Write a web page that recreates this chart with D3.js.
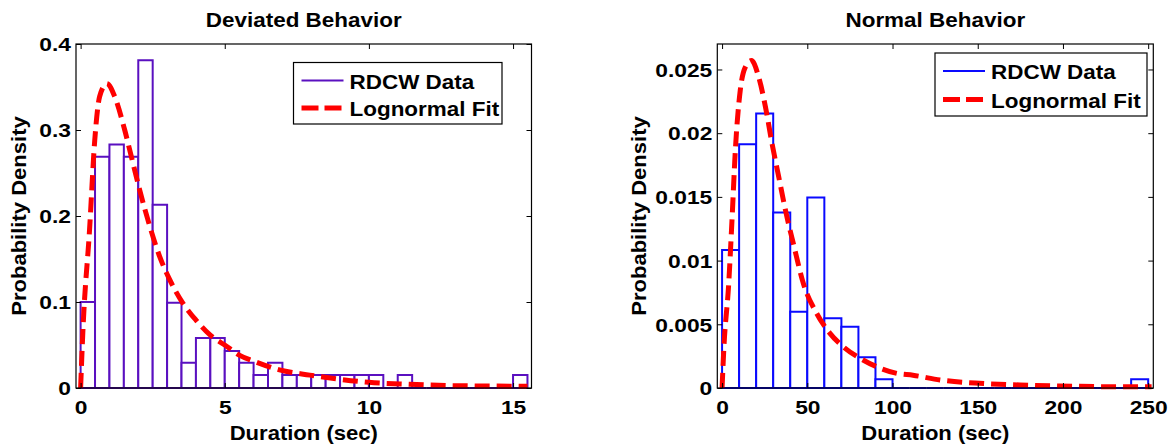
<!DOCTYPE html>
<html>
<head>
<meta charset="utf-8">
<script src="https://d3js.org/d3.v7.min.js"></script>
<style>
  html, body { margin: 0; padding: 0; background: #ffffff; }
  svg { display: block; }
  text { font-family: "Liberation Sans", Arial, Helvetica, sans-serif; font-weight: bold; fill: #000; }
</style>
</head>
<body>
<svg id="chart" width="1172" height="447"></svg>
<script>
// ---------------- DATA ----------------
// Deviated behaviour histogram (bin lower edges, width 0.5 s) and densities
const devBinLo = [0,0.5,1,1.5,2,2.5,3,3.5,4,4.5,5,5.5,6,6.5,7,7.5,8,8.5,9,9.5,10,10.5,11,11.5,12,12.5,13,13.5,14,14.5,15];
const devBinWidth = 0.5;
const devDensity = [0.100,0.269,0.283,0.269,0.381,0.213,0.099,0.0295,0.058,0.058,0.043,0.0295,0.015,0.0295,0.015,0.015,0.015,0.015,0.015,0.015,0.015,0,0.015,0,0,0,0,0,0,0,0.015];
// Lognormal fit, points
const devFitX = [0,0.08,0.31,0.49,0.66,0.91,1.18,1.53,1.76,2.05,2.40,2.74,3.09,3.55,4.0,4.48,5.0,5.52,6.1,6.9,7.95,9.0,10.0,11.4,12.7,14.1,15.5];
const devFitY = [0,0.067,0.184,0.288,0.339,0.354,0.339,0.300,0.269,0.230,0.188,0.153,0.126,0.0985,0.079,0.062,0.050,0.038,0.030,0.021,0.015,0.0101,0.0066,0.0043,0.0029,0.0023,0.002];
const devXTicks = [0,5,10,15];
const devXTickLabels = ["0","5","10","15"];
const devYTicks = [0,0.1,0.2,0.3,0.4];
const devYTickLabels = ["0","0.1","0.2","0.3","0.4"];

// Normal behaviour histogram (bin lower edges, width 10 s) and densities
const normBinLo = [0,10,20,30,40,50,60,70,80,90,100,110,120,130,140,150,160,170,180,190,200,210,220,230,240];
const normBinWidth = 10;
const normDensity = [0.01083,0.01914,0.02155,0.01378,0.00599,0.01496,0.00547,0.00481,0.00241,0.00068,0,0,0,0,0,0,0,0,0,0,0,0,0,0,0.00068];
const normFitX = [0,1.0,3.9,5.9,7.8,10.7,13.7,17.2,21.5,25.4,29.3,33.2,38.1,41.8,47.7,55.5,63.3,71.1,81,90.7,102.5,112,127.9,151,174.8,198,229,252];
const normFitY = [0,0.003,0.0082,0.0134,0.0187,0.0234,0.0252,0.0257,0.0244,0.0221,0.0192,0.0166,0.0134,0.01135,0.0082,0.00586,0.00429,0.00324,0.00233,0.00167,0.00115,0.00100,0.00063,0.00037,0.00024,0.00016,0.0001,0.0001];
const normXTicks = [0,50,100,150,200,250];
const normXTickLabels = ["0","50","100","150","200","250"];
const normYTicks = [0,0.005,0.01,0.015,0.02,0.025];
const normYTickLabels = ["0","0.005","0.01","0.015","0.02","0.025"];

const titles = ["Deviated Behavior","Normal Behavior"];
const xLabel = "Duration (sec)";
const yLabel = "Probability Density";
const legendLabels = ["RDCW Data","Lognormal Fit"];

// ---------------- DRAW ----------------
const svg = d3.select("#chart");

function scaledText(g, x, y, str, size, sx, anchor, rotate) {
  return g.append("text")
    .attr("transform", `translate(${x},${y})` + (rotate ? ` rotate(${rotate})` : "") + ` scale(${sx},1)`)
    .attr("text-anchor", anchor || "middle")
    .style("font-size", size + "px")
    .text(str);
}

function panel(cfg) {
  const g = svg.append("g");
  const x = d3.scaleLinear().domain(cfg.xDomain).range([cfg.left, cfg.right]);
  const y = d3.scaleLinear().domain(cfg.yDomain).range([cfg.bottom, cfg.top]);

  // bars
  const bars = cfg.binLo.map((lo, i) => ({lo: lo, hi: lo + cfg.binWidth, v: cfg.density[i]}));
  g.append("g").selectAll("path").data(bars).join("path")
    .attr("d", d => `M${x(d.lo)},${y(0)}V${y(d.v)}H${x(d.hi)}V${y(0)}Z`)
    .attr("fill", "#ffffff")
    .attr("stroke", cfg.barColor)
    .attr("stroke-width", 2)
    .attr("stroke-linejoin", "miter");

  // fit curve
  const pts = cfg.fitX.map((v, i) => [v, cfg.fitY[i]]);
  g.append("path")
    .datum(pts)
    .attr("d", d3.line().x(d => x(d[0])).y(d => y(d[1])).curve(d3.curveMonotoneX))
    .attr("fill", "none")
    .attr("stroke", "#ff0000")
    .attr("stroke-width", 5)
    .attr("stroke-dasharray", "15,7");

  // axes (ticks inside, all four sides)
  const fmtX = (d) => cfg.xTickLabels[cfg.xTicks.indexOf(d)];
  const fmtY = (d) => cfg.yTickLabels[cfg.yTicks.indexOf(d)];
  const ax = g.append("g").attr("transform", `translate(0,${cfg.bottom})`)
    .call(d3.axisBottom(x).tickValues(cfg.xTicks).tickFormat(fmtX).tickSizeInner(-5).tickSizeOuter(0));
  ax.selectAll("text").attr("x", 0).attr("y", 0).attr("dy", null)
    .attr("transform", "translate(0,25.5) scale(1.2,1)")
    .style("font-size", "19px").style("font-family", null).attr("fill", "#000");
  const ay = g.append("g").attr("transform", `translate(${cfg.left},0)`)
    .call(d3.axisLeft(y).tickValues(cfg.yTicks).tickFormat(fmtY).tickSizeInner(-5).tickSizeOuter(0));
  ay.selectAll("text").attr("x", 0).attr("y", 0).attr("dy", null)
    .attr("transform", "translate(-5,6.8) scale(1.2,1)")
    .style("font-size", "19px").style("font-family", null).attr("fill", "#000");
  g.append("g").attr("transform", `translate(0,${cfg.top})`)
    .call(d3.axisTop(x).tickValues(cfg.xTicks).tickFormat("").tickSizeInner(-5).tickSizeOuter(0));
  g.append("g").attr("transform", `translate(${cfg.right},0)`)
    .call(d3.axisRight(y).tickValues(cfg.yTicks).tickFormat("").tickSizeInner(-5).tickSizeOuter(0));
  g.selectAll(".domain").remove();
  g.selectAll(".tick line").attr("stroke", "#000").attr("stroke-width", 1);

  // box
  g.append("rect")
    .attr("x", cfg.left).attr("y", cfg.top)
    .attr("width", cfg.right - cfg.left).attr("height", cfg.bottom - cfg.top)
    .attr("fill", "none").attr("stroke", "#000").attr("stroke-width", 1.2);

  // titles and labels
  const cx = (cfg.left + cfg.right) / 2;
  scaledText(g, cx, 26.5, cfg.title, 21, 1.07, "middle");
  scaledText(g, cx, 440, xLabel, 21, 1.05, "middle");
  scaledText(g, cfg.yLabelX, (cfg.top + cfg.bottom) / 2, yLabel, 21, 1.05, "middle", -90);

  // legend
  const L = cfg.legend;
  const lg = g.append("g");
  lg.append("rect").attr("x", L.x0).attr("y", L.y0)
    .attr("width", L.x1 - L.x0).attr("height", L.y1 - L.y0)
    .attr("fill", "#ffffff").attr("stroke", "#000").attr("stroke-width", 1.2);
  lg.append("line").attr("x1", L.x0 + 8).attr("x2", L.x0 + 50)
    .attr("y1", L.row1).attr("y2", L.row1)
    .attr("stroke", cfg.barColor).attr("stroke-width", 2);
  lg.append("line").attr("x1", L.x0 + 8).attr("x2", L.x0 + 50)
    .attr("y1", L.row2).attr("y2", L.row2)
    .attr("stroke", "#ff0000").attr("stroke-width", 5).attr("stroke-dasharray", "17,6");
  scaledText(lg, L.x0 + 56, L.row1 + 8, legendLabels[0], 21, 1.07, "start");
  scaledText(lg, L.x0 + 56, L.row2 + 8, legendLabels[1], 21, 1.07, "start");
}

panel({
  left: 76, right: 531.5, top: 44, bottom: 388,
  xDomain: [-0.16, 15.64], yDomain: [0, 0.4],
  binLo: devBinLo, binWidth: devBinWidth, density: devDensity,
  fitX: devFitX, fitY: devFitY,
  xTicks: devXTicks, xTickLabels: devXTickLabels,
  yTicks: devYTicks, yTickLabels: devYTickLabels,
  barColor: "#5a10c0", title: titles[0], yLabelX: 26,
  legend: {x0: 293.5, x1: 502, y0: 62.5, y1: 124, row1: 80.5, row2: 108}
});

panel({
  left: 717.3, right: 1153.3, top: 44, bottom: 388,
  xDomain: [-2.8, 253], yDomain: [0, 0.027],
  binLo: normBinLo, binWidth: normBinWidth, density: normDensity,
  fitX: normFitX, fitY: normFitY,
  xTicks: normXTicks, xTickLabels: normXTickLabels,
  yTicks: normYTicks, yTickLabels: normYTickLabels,
  barColor: "#0a0aff", title: titles[1], yLabelX: 646,
  legend: {x0: 935, x1: 1147, y0: 53, y1: 116, row1: 71, row2: 99.5}
});
</script>
</body>
</html>
